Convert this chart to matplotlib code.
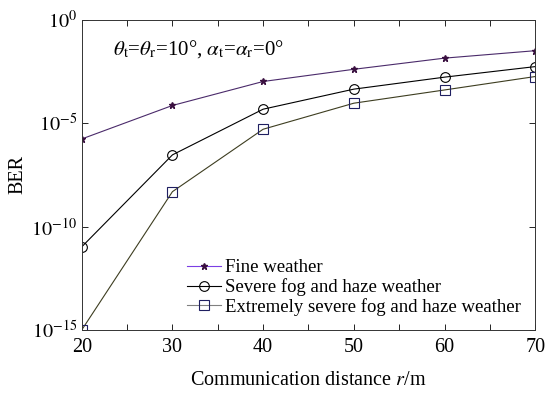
import matplotlib
matplotlib.use("Agg")
import matplotlib.pyplot as plt
import numpy as np

plt.rcParams['font.family'] = ['Liberation Serif', 'DejaVu Serif']
plt.rcParams['mathtext.fontset'] = 'stix'

# communication distance r (m)
distance = [20, 30, 40, 50, 60, 70]
# BER values (log10)
log_fine = [-5.76, -4.14, -2.98, -2.39, -1.85, -1.49]
log_severe = [-10.98, -6.53, -4.32, -3.35, -2.77, -2.26]
log_extreme = [-15.0, -8.31, -5.29, -4.03, -3.39, -2.74]

labels = ['Fine weather', 'Severe fog and haze weather',
          'Extremely severe fog and haze weather']

fig = plt.figure(figsize=(5.45, 3.98), dpi=100)
ax = fig.add_axes([0.150, 0.171, 0.832, 0.779])

ber_fine = 10.0 ** np.array(log_fine)
ber_severe = 10.0 ** np.array(log_severe)
ber_extreme = 10.0 ** np.array(log_extreme)

ax.plot(distance, ber_fine, color='#4a2a6a', lw=0.8, marker='*', ms=5,
        mfc='#3a1040', mec='#3a1040', label=labels[0])
ax.plot(distance, ber_severe, color='black', lw=0.8, marker='o', ms=7,
        mfc='none', mec='black', mew=0.8, label=labels[1])
ax.plot(distance, ber_extreme, color='#3d3d20', lw=0.8, marker='s', ms=6.5,
        mfc='none', mec='#1f1f60', mew=0.8, label=labels[2])

ax.set_yscale('log')
ax.set_xlim(20, 70)
ax.set_ylim(1e-15, 1)
ax.set_yticks([1e-15, 1e-10, 1e-5, 1])
ax.set_yticklabels([r'$10^{-15}$', r'$10^{-10}$', r'$10^{-5}$', r'$10^{0}$'])
ax.yaxis.set_minor_locator(matplotlib.ticker.NullLocator())
ax.set_xticks([20, 30, 40, 50, 60, 70])
ax.set_xticks(np.arange(25, 70, 10), minor=True)
ax.tick_params(which='both', direction='in', top=True, right=True,
               labelsize=14.5, width=0.6, length=4)
ax.tick_params(axis='x', pad=6)
for s in ax.spines.values():
    s.set_linewidth(0.7)
    s.set_color('#333333')

ax.set_xlabel('Communication distance $r$/m', fontsize=14.5, labelpad=10)
ax.set_ylabel('BER', fontsize=14.5, labelpad=0)
ax.yaxis.set_label_coords(-0.12, 0.5)

ax.text(0.068, 0.905,
        r'$\theta_\mathrm{t}$=$\theta_\mathrm{r}$=10°, $\alpha_\mathrm{t}$=$\alpha_\mathrm{r}$=0°',
        transform=ax.transAxes, fontsize=15, va='center', ha='left')

leg = ax.legend(loc='lower right', frameon=False, fontsize=13.5,
                handlelength=1.8, handletextpad=0.25, labelspacing=0.1,
                borderaxespad=0.35)
leg.get_lines()[0].set_color('#7b3fe4')
leg.get_lines()[2].set_color('#808080')

fig.savefig('out.png', dpi=100)
